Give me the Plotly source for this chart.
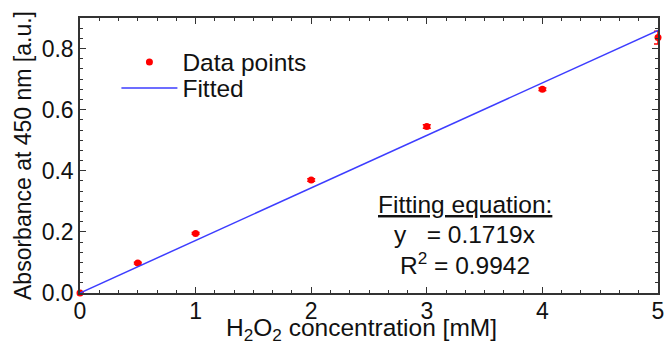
import plotly.graph_objects as go

# Data
conc = [0, 0.5, 1, 2, 3, 4, 5]
absorb = [0.0, 0.098, 0.195, 0.370, 0.545, 0.667, 0.836]
err = [0.0, 0.003, 0.003, 0.004, 0.006, 0.004, 0.021]
slope = 0.1719
fit_x = [0, 5]
fit_y = [slope * v for v in fit_x]

xticks = [0, 1, 2, 3, 4, 5]
yticks = [0.0, 0.2, 0.4, 0.6, 0.8]

FONT = "Liberation Sans, Arial, sans-serif"

fig = go.Figure()
fig.add_trace(go.Scatter(
    x=conc, y=absorb, mode="markers", name="Data points",
    marker=dict(color="#ff0000", size=7),
    error_y=dict(type="data", array=err, color="#ff0000", thickness=1.5, width=4),
    cliponaxis=False, legend="legend",
))
fig.add_trace(go.Scatter(
    x=fit_x, y=fit_y, mode="lines", name="Fitted",
    line=dict(color="#3d3dff", width=1.5), legend="legend2",
))

axis_common = dict(
    automargin=False,
    showgrid=False, zeroline=False, showline=True, linecolor="#333333", linewidth=1.5,
    mirror="ticks", ticks="inside", ticklen=6, tickwidth=1.2, tickcolor="#333333",
    tickfont=dict(family=FONT, size=23, color="#111111"),
    ticklabeloverflow="allow",
)

fig.update_xaxes(
    range=[0, 5], tickvals=xticks, ticktext=[str(v) for v in xticks],
    minor=dict(ticks="inside", dtick=1/6, ticklen=3, tickcolor="#333333", tickwidth=1),
    ticklabelstandoff=-3,
    **axis_common,
)
fig.update_yaxes(
    range=[0, 0.9], tickvals=yticks, ticktext=[f"{v:.1f}" for v in yticks],
    minor=dict(ticks="inside", dtick=0.2/6, ticklen=3, tickcolor="#333333", tickwidth=1),
    title=dict(text="Absorbance at 450 nm [a.u.]",
               font=dict(family=FONT, size=23, color="#111111"), standoff=4),
    **axis_common,
)

# x-axis title (placed as text below the axis, slightly left of centre as in the reference)
fig.add_annotation(xref="paper", yref="paper", x=(361 - 80) / 578, y=(293 - 329) / 275,
                   text="H<sub>2</sub>O<sub>2</sub> concentration [mM]", showarrow=False,
                   font=dict(family=FONT, size=24.5, color="#111111"),
                   xanchor="center", yanchor="middle")

ann_font = dict(family=FONT, size=24.5, color="#111111")
fig.add_annotation(xref="x", yref="paper", x=3.33, y=(293 - 205) / 275, text="<u>Fitting equation:</u>",
                   showarrow=False, font=ann_font, xanchor="center", yanchor="middle")
fig.add_annotation(xref="x", yref="paper", x=3.33, y=(293 - 234) / 275, text="y \u00a0\u00a0= 0.1719x",
                   showarrow=False, font=ann_font, xanchor="center", yanchor="middle")
fig.add_annotation(xref="x", yref="paper", x=3.33, y=(293 - 263) / 275, text="R<sup>2</sup> = 0.9942",
                   showarrow=False, font=ann_font, xanchor="center", yanchor="middle")

leg_common = dict(xanchor="left", yanchor="middle", bgcolor="rgba(0,0,0,0)",
                  font=dict(family=FONT, size=24.5, color="#111111"), itemwidth=56)
fig.update_layout(
    width=664, height=347,
    margin=dict(l=80, r=6, t=18, b=54),
    paper_bgcolor="white", plot_bgcolor="white",
    showlegend=True,
    legend=dict(x=0.063, y=1 - (62 - 18) / 275, **leg_common),
    legend2=dict(x=0.063, y=1 - (88 - 18) / 275, **leg_common),
)

fig.write_html("out.html", config={"displayModeBar": False},
               post_script="document.body.style.margin='0';document.body.style.overflow='hidden';")
